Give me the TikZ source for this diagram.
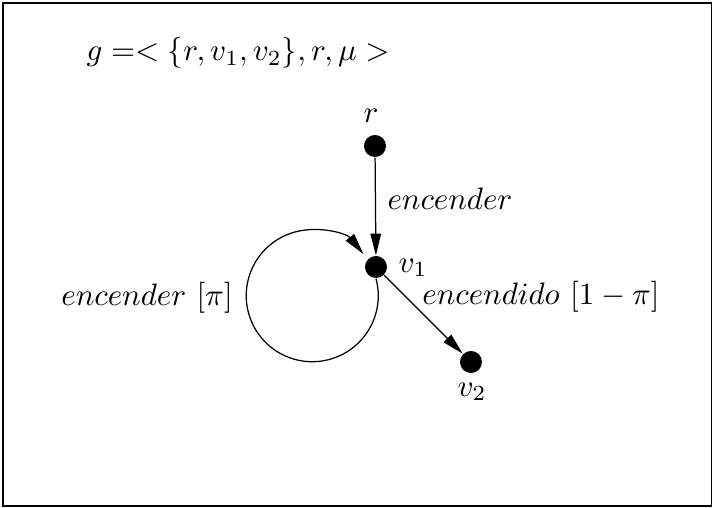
\documentclass[tikz,border=0pt]{standalone}
\usetikzlibrary{arrows.meta}
\begin{document}
\begin{tikzpicture}[x=0.3226pt,y=0.3226pt,
  dot/.style={circle,fill=black,inner sep=0pt,minimum size=7.1pt},
  lbl/.style={inner sep=0pt},
  arr/.style={-{Triangle[length=7pt,width=3.4pt]}}]
\useasboundingbox (0,0) rectangle (713,508);
\draw[line width=0.35pt] (3,2) rectangle (711.5,505);
\node[lbl] (g) at (238,455) {$g =< \{r, v_1, v_2\}, r, \mu >$};
\node[dot] (r) at (375,362) {};
\node[dot] (v1) at (376,241) {};
\node[dot] (v2) at (471,146) {};
\node[lbl] (rl) at (371,392) {$r$};
\node[lbl] (v1l) at (413,240) {$v_1$};
\node[lbl] (v2l) at (472,116) {$v_2$};
\draw[arr] (r) -- (v1);
\draw[arr] (v1) -- (v2);
\draw[arr] (v1.south) arc[start angle=15,end angle=-321,radius=66];
\node[lbl] (e1) at (450,309) {$encender$};
\node[lbl] (e2) at (541,211) {$encendido\ [1-\pi]$};
\node[lbl] (e3) at (147,210) {$encender\ [\pi]$};
\end{tikzpicture}
\end{document}
